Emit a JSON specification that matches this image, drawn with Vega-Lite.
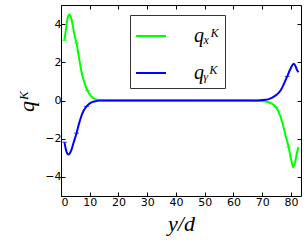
{
  "$schema": "https://vega.github.io/schema/vega-lite/v6.json",
  "width": 240,
  "height": 191,
  "autosize": {"type": "none"},
  "padding": {"left": 61, "top": 5, "right": 6, "bottom": 50},
  "background": "white",
  "config": {
    "view": {"stroke": "black", "strokeWidth": 1},
    "axis": {
      "grid": false,
      "domain": false,
      "tickColor": "black",
      "tickSize": -4,
      "labelFont": "DejaVu Sans",
      "labelFontSize": 11,
      "labelColor": "black",
      "titleFont": "Liberation Serif",
      "titleFontStyle": "italic",
      "titleFontWeight": "normal",
      "titleFontSize": 22,
      "titleColor": "black"
    }
  },
  "datasets": {
    "curves": [
      {"series": "qₓᴷ", "x": 1.2, "y": 3.15},
      {"series": "qₓᴷ", "x": 1.6, "y": 3.6},
      {"series": "qₓᴷ", "x": 2.0, "y": 4.05},
      {"series": "qₓᴷ", "x": 2.4, "y": 4.38},
      {"series": "qₓᴷ", "x": 2.9, "y": 4.5},
      {"series": "qₓᴷ", "x": 3.4, "y": 4.4},
      {"series": "qₓᴷ", "x": 4.0, "y": 4.0},
      {"series": "qₓᴷ", "x": 4.6, "y": 3.5},
      {"series": "qₓᴷ", "x": 5.4, "y": 3.0},
      {"series": "qₓᴷ", "x": 6.2, "y": 2.3},
      {"series": "qₓᴷ", "x": 7.0, "y": 1.6},
      {"series": "qₓᴷ", "x": 8.0, "y": 1.0},
      {"series": "qₓᴷ", "x": 9.2, "y": 0.52},
      {"series": "qₓᴷ", "x": 10.5, "y": 0.22},
      {"series": "qₓᴷ", "x": 12.0, "y": 0.07},
      {"series": "qₓᴷ", "x": 13.5, "y": 0.02},
      {"series": "qₓᴷ", "x": 15.0, "y": 0.005},
      {"series": "qₓᴷ", "x": 20.0, "y": 0.0},
      {"series": "qₓᴷ", "x": 30.0, "y": 0.0},
      {"series": "qₓᴷ", "x": 40.0, "y": 0.0},
      {"series": "qₓᴷ", "x": 50.0, "y": 0.0},
      {"series": "qₓᴷ", "x": 60.0, "y": 0.0},
      {"series": "qₓᴷ", "x": 65.0, "y": 0.0},
      {"series": "qₓᴷ", "x": 68.0, "y": -0.01},
      {"series": "qₓᴷ", "x": 70.0, "y": -0.03},
      {"series": "qₓᴷ", "x": 72.0, "y": -0.08},
      {"series": "qₓᴷ", "x": 73.5, "y": -0.18},
      {"series": "qₓᴷ", "x": 74.8, "y": -0.35},
      {"series": "qₓᴷ", "x": 76.0, "y": -0.7},
      {"series": "qₓᴷ", "x": 77.0, "y": -1.15},
      {"series": "qₓᴷ", "x": 78.0, "y": -1.75},
      {"series": "qₓᴷ", "x": 79.2, "y": -2.44},
      {"series": "qₓᴷ", "x": 80.0, "y": -3.05},
      {"series": "qₓᴷ", "x": 80.8, "y": -3.49},
      {"series": "qₓᴷ", "x": 81.5, "y": -3.2},
      {"series": "qₓᴷ", "x": 82.0, "y": -2.8},
      {"series": "qₓᴷ", "x": 82.6, "y": -2.44},
      {"series": "qᵧᴷ", "x": 1.2, "y": -2.18},
      {"series": "qᵧᴷ", "x": 1.6, "y": -2.5},
      {"series": "qᵧᴷ", "x": 2.0, "y": -2.72},
      {"series": "qᵧᴷ", "x": 2.5, "y": -2.83},
      {"series": "qᵧᴷ", "x": 3.0, "y": -2.78},
      {"series": "qᵧᴷ", "x": 3.6, "y": -2.6},
      {"series": "qᵧᴷ", "x": 4.4, "y": -2.2},
      {"series": "qᵧᴷ", "x": 5.4, "y": -1.71},
      {"series": "qᵧᴷ", "x": 6.2, "y": -1.25},
      {"series": "qᵧᴷ", "x": 7.0, "y": -0.85},
      {"series": "qᵧᴷ", "x": 8.0, "y": -0.5},
      {"series": "qᵧᴷ", "x": 8.9, "y": -0.31},
      {"series": "qᵧᴷ", "x": 10.0, "y": -0.15},
      {"series": "qᵧᴷ", "x": 11.0, "y": -0.07},
      {"series": "qᵧᴷ", "x": 12.5, "y": -0.02},
      {"series": "qᵧᴷ", "x": 14.0, "y": -0.005},
      {"series": "qᵧᴷ", "x": 20.0, "y": 0.0},
      {"series": "qᵧᴷ", "x": 30.0, "y": 0.0},
      {"series": "qᵧᴷ", "x": 40.0, "y": 0.0},
      {"series": "qᵧᴷ", "x": 50.0, "y": 0.0},
      {"series": "qᵧᴷ", "x": 60.0, "y": 0.0},
      {"series": "qᵧᴷ", "x": 66.0, "y": 0.0},
      {"series": "qᵧᴷ", "x": 68.0, "y": 0.005},
      {"series": "qᵧᴷ", "x": 70.0, "y": 0.02},
      {"series": "qᵧᴷ", "x": 72.0, "y": 0.06},
      {"series": "qᵧᴷ", "x": 73.5, "y": 0.15},
      {"series": "qᵧᴷ", "x": 75.0, "y": 0.3},
      {"series": "qᵧᴷ", "x": 76.5, "y": 0.55},
      {"series": "qᵧᴷ", "x": 77.5, "y": 0.85},
      {"series": "qᵧᴷ", "x": 78.7, "y": 1.26},
      {"series": "qᵧᴷ", "x": 79.8, "y": 1.65},
      {"series": "qᵧᴷ", "x": 80.5, "y": 1.85},
      {"series": "qᵧᴷ", "x": 81.0, "y": 1.92},
      {"series": "qᵧᴷ", "x": 81.6, "y": 1.8},
      {"series": "qᵧᴷ", "x": 82.1, "y": 1.6},
      {"series": "qᵧᴷ", "x": 82.6, "y": 1.48}
    ],
    "bars": [
      {"series": "qₓᴷ", "x": 1.2, "y": 3.15},
      {"series": "qₓᴷ", "x": 5.4, "y": 3.0},
      {"series": "qₓᴷ", "x": 9.2, "y": 0.52},
      {"series": "qₓᴷ", "x": 74.8, "y": -0.35},
      {"series": "qₓᴷ", "x": 79.2, "y": -2.44},
      {"series": "qᵧᴷ", "x": 1.2, "y": -2.18},
      {"series": "qᵧᴷ", "x": 5.4, "y": -1.71},
      {"series": "qᵧᴷ", "x": 8.9, "y": -0.31},
      {"series": "qᵧᴷ", "x": 78.7, "y": 1.26}
    ]
  },
  "layer": [
    {
      "data": {"name": "curves"},
      "mark": {"type": "line", "strokeWidth": 2, "interpolate": "monotone"},
      "encoding": {
        "x": {
          "field": "x", "type": "quantitative",
          "scale": {"domain": [0, 83.5], "nice": false, "zero": false},
          "axis": {"orient": "bottom", "values": [0, 10, 20, 30, 40, 50, 60, 70, 80], "title": "y/d", "titlePadding": 6, "labelPadding": 4}
        },
        "y": {
          "field": "y", "type": "quantitative",
          "scale": {"domain": [-5, 5], "nice": false},
          "axis": {"orient": "left", "values": [-4, -2, 0, 2, 4], "title": "qᴷ", "titlePadding": 6, "labelPadding": 4}
        },
        "color": {
          "field": "series", "type": "nominal",
          "scale": {"domain": ["qₓᴷ", "qᵧᴷ"], "range": ["#00ff00", "#0000ff"]},
          "legend": {
            "orient": "none", "legendX": 69, "legendY": 10,
            "direction": "vertical", "title": null,
            "strokeColor": "#333333", "fillColor": "white",
            "padding": 5, "symbolType": "stroke", "symbolSize": 900,
            "symbolStrokeWidth": 2, "labelFont": "Liberation Serif",
            "labelFontStyle": "italic", "labelFontSize": 20, "labelColor": "black",
            "labelOffset": 27, "rowPadding": 11
          }
        }
      }
    },
    {
      "data": {"name": "bars"},
      "mark": {"type": "tick", "orient": "horizontal", "size": 5, "thickness": 1},
      "encoding": {
        "x": {
          "field": "x", "type": "quantitative",
          "scale": {"domain": [0, 83.5], "nice": false, "zero": false},
          "axis": {"orient": "top", "values": [0, 10, 20, 30, 40, 50, 60, 70, 80], "labels": false, "title": null}
        },
        "y": {
          "field": "y", "type": "quantitative",
          "scale": {"domain": [-5, 5], "nice": false},
          "axis": {"orient": "right", "values": [-4, -2, 0, 2, 4], "labels": false, "title": null}
        },
        "color": {"field": "series", "type": "nominal", "legend": null}
      }
    }
  ],
  "resolve": {"axis": {"x": "independent", "y": "independent"}}
}
